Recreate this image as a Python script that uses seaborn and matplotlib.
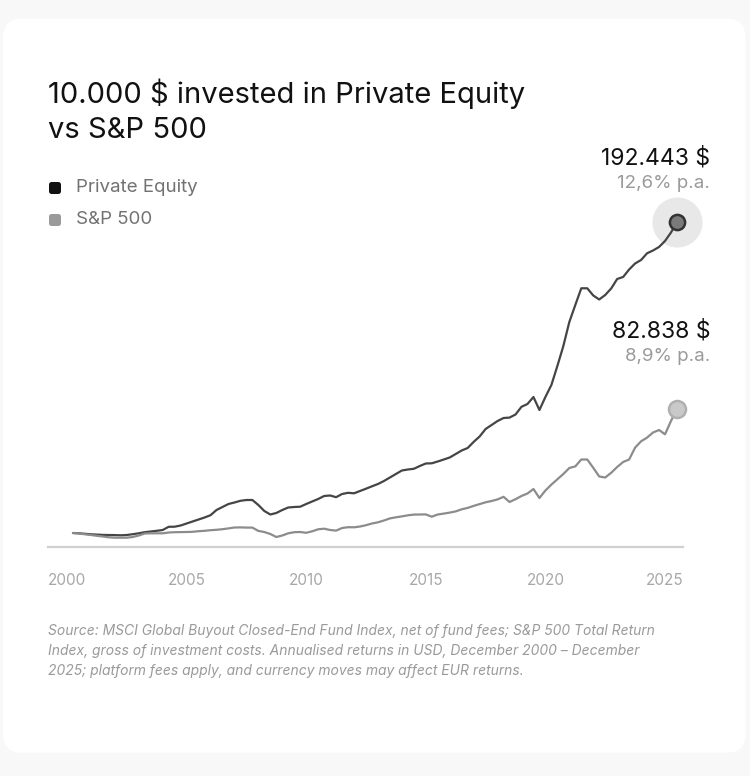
import matplotlib
matplotlib.use("Agg")
import matplotlib.pyplot as plt
from matplotlib.patches import FancyBboxPatch
import numpy as np
import pandas as pd
import seaborn as sns

# quarterly points, Q1 2000 -> mid 2025
years = [2000.25 + 0.25 * i for i in range(102)]

private_equity = [
    10000, 9824, 9530, 9237, 9061, 8885, 8826, 8767, 8650, 8826,
    9296, 9824, 10470, 10880, 11291, 11761, 13639, 13698, 14402, 15577,
    16751, 17925, 19099, 20449, 23501, 25262, 27023, 27904, 28901, 29371,
    29371, 26436, 22914, 20860, 21740, 23501, 24969, 25262, 25438, 27023,
    28491, 29958, 31719, 32013, 31015, 32893, 33597, 33304, 34654, 36004,
    37413, 38763, 40524, 42579, 44633, 46688, 47275, 47685, 49329, 50797,
    50914, 51971, 53145, 54319, 56373, 58428, 59895, 63476, 66646, 71048,
    73396, 75744, 77505, 77740, 79560, 84079, 85723, 89832, 82201, 89832,
    96876, 108029, 119769, 133857, 143836, 153639, 153639, 149413, 147065, 149706,
    153522, 159098, 160272, 164675, 168197, 170251, 174184, 175828, 177882, 181404,
    186394, 192443,
]

sp500 = [
    10000, 9706, 9237, 8826, 8356, 7945, 7476, 7241, 7241, 7241,
    7652, 8532, 9706, 9824, 9824, 9824, 10294, 10470, 10528, 10587,
    10704, 11057, 11291, 11644, 11878, 12231, 12700, 13229, 13287, 13170,
    13170, 11233, 10587, 9413, 7652, 8532, 9824, 10470, 10587, 10117,
    10998, 12172, 12524, 11761, 11409, 12935, 13405, 13346, 13816, 14579,
    15577, 16281, 17338, 18570, 19216, 19744, 20390, 20801, 20860, 20918,
    19568, 20860, 21388, 21975, 22679, 23912, 24734, 25908, 26964, 28021,
    28784, 29723, 31249, 28197, 29841, 31719, 33187, 35828, 30545, 34948,
    38411, 41522, 44633, 48155, 49094, 53145, 53145, 48272, 43166, 42579,
    45337, 48742, 51677, 53145, 60130, 63828, 66000, 68994, 70461, 67937,
    75744, 82838,
]

series_names = ["Private Equity", "S&P 500"]
series_colors = ["#454545", "#8c8c8c"]
legend_colors = ["#111111", "#9a9a9a"]
end_values = ["192.443 $", "82.838 $"]
end_rates = ["12,6% p.a.", "8,9% p.a."]
tick_years = [2000, 2005, 2010, 2015, 2020, 2025]

df = pd.concat([
    pd.DataFrame({"year": years, "value": private_equity, "series": series_names[0]}),
    pd.DataFrame({"year": years, "value": sp500, "series": series_names[1]}),
])

sns.set_theme(style="white")
plt.rcParams["font.family"] = ["Inter", "DejaVu Sans"]

fig = plt.figure(figsize=(7.5, 7.76), dpi=100)
fig.patch.set_facecolor("#f8f8f8")

# white card behind everything
card = FancyBboxPatch(
    (0.004, 0.03), 0.99, 0.946,
    boxstyle="round,pad=0,rounding_size=0.025",
    transform=fig.transFigure, facecolor="white", edgecolor="none", zorder=-10,
)
fig.patches.append(card)

ax = fig.add_axes([0.064, 0.2951, 0.8467, 0.4472])
ax.set_facecolor("none")
ax.set_zorder(2)

sns.lineplot(
    data=df, x="year", y="value", hue="series",
    palette=dict(zip(series_names, series_colors)),
    linewidth=1.6, legend=False, ax=ax,
)

ax.set_xlim(1999.206, 2025.753)
ax.set_ylim(1782, 205471)

# end markers
ax.scatter(years[-1], private_equity[-1], s=1300, color="#e8e8e8", zorder=1, clip_on=False, linewidths=0)
ax.scatter(years[-1], private_equity[-1], s=120, color="#7a7a7a", edgecolor="#333333",
           linewidths=1.8, zorder=4, clip_on=False)
ax.scatter(years[-1], sp500[-1], s=150, color="#c9c9c9", edgecolor="#b0b0b0",
           linewidths=1.8, zorder=4, clip_on=False)

for spine in ["top", "left", "right"]:
    ax.spines[spine].set_visible(False)
ax.spines["bottom"].set_color("#d0d0d0")
ax.spines["bottom"].set_linewidth(1.6)

ax.set_xticks(tick_years)
ax.set_xticklabels([str(y) for y in tick_years])
ax.set_yticks([])
ax.tick_params(axis="x", length=0, pad=19, labelsize=11, labelcolor="#a8a8a8")
ax.set_xlabel("")
ax.set_ylabel("")

# title
fig.text(0.064, 1 - 94 / 776, "10.000 $ invested in Private Equity", fontsize=21,
         color="#111111", va="center", ha="left")
fig.text(0.064, 1 - 131 / 776, "vs S&P 500", fontsize=21,
         color="#111111", va="center", ha="left")

# legend
for i, (name, col) in enumerate(zip(series_names, legend_colors)):
    yy = 1 - (188 + 32 * i) / 776
    fig.patches.append(FancyBboxPatch(
        (49 / 750, yy - 6 / 776), 12 / 750, 12 / 776,
        boxstyle="round,pad=0,rounding_size=0.0035",
        transform=fig.transFigure, facecolor=col, edgecolor="none",
    ))
    fig.text(76 / 750, yy, name, fontsize=13.5, color="#727272", va="center", ha="left")

# end labels
for val_txt, rate_txt, y_val, y_rate in zip(end_values, end_rates, [158, 331], [183, 357]):
    fig.text(710 / 750, 1 - y_val / 776, val_txt, fontsize=16.5, color="#111111", va="center", ha="right")
    fig.text(710 / 750, 1 - y_rate / 776, rate_txt, fontsize=13.5, color="#9a9a9a", va="center", ha="right")

# footnote
note = ("Source: MSCI Global Buyout Closed-End Fund Index, net of fund fees; S&P 500 Total Return\n"
        "Index, gross of investment costs. Annualised returns in USD, December 2000 \u2013 December\n"
        "2025; platform fees apply, and currency moves may affect EUR returns.")
fig.text(0.064, 1 - 624 / 776, note, fontsize=10, color="#9a9a9a", style="italic",
         va="top", ha="left", linespacing=1.55)

fig.savefig("out.png", dpi=100, facecolor=fig.get_facecolor())
